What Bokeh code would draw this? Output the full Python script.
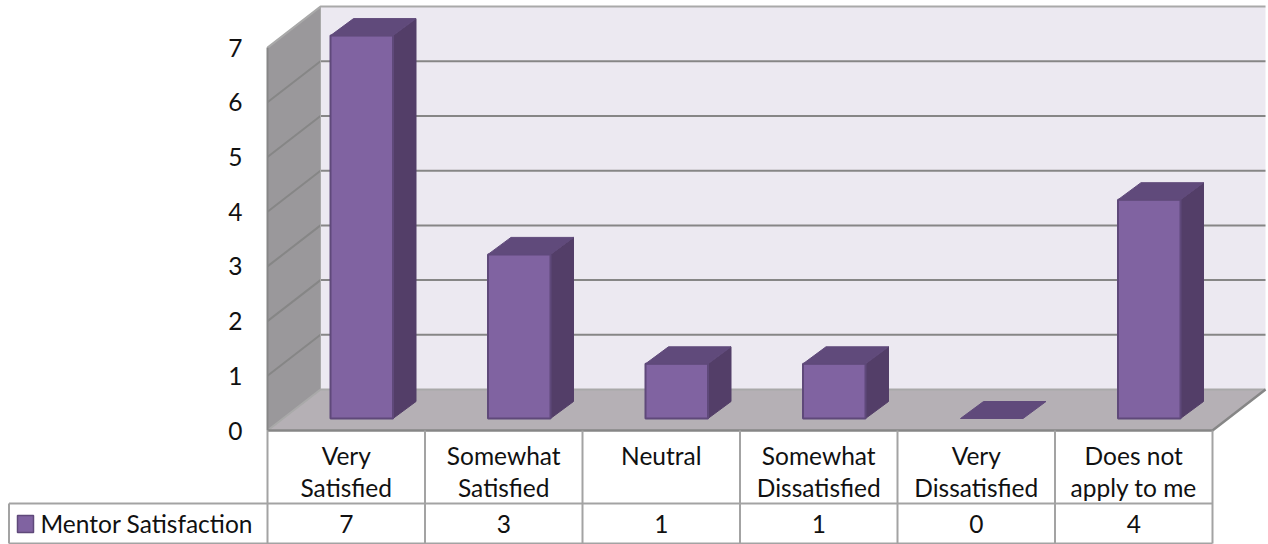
from bokeh.plotting import figure
from bokeh.models import Range1d
from bokeh.core.properties import value
from bokeh.embed import file_html
from bokeh.resources import INLINE

categories = ["Very\nSatisfied", "Somewhat\nSatisfied", "Neutral", "Somewhat\nDissatisfied", "Very\nDissatisfied", "Does not\napply to me"]
series_name = "Mentor Satisfaction"
series_values = [7, 3, 1, 1, 0, 4]
y_ticks = [0, 1, 2, 3, 4, 5, 6, 7]

# layout, in reference pixels
PX_X, PX_Y = 157.5, 54.7
X0, Y0 = 267.0, 430.0
def ux(px): return (px - X0) / PX_X          # picture column to category units
def uy(px): return px / PX_Y                 # vertical length to value units
def row(py): return (Y0 - py) / PX_Y         # picture row to value units

N = len(categories)
WALL_DX, WALL_DY = ux(X0 + 53), uy(41)
BAR_L, BAR_W = ux(X0 + 63), ux(X0 + 62.5)
BAR_DX, BAR_DY = ux(X0 + 23), uy(17)
BAR_BASE = uy(12)
WALL_TOP = max(y_ticks)

FONT = value("Lato")
FS = "24.5px"
TXT = "#111111"
GRID = "#868686"
TABLE = "#a3a3a3"
FRONT, SIDE, TOP, EDGE = "#8063a1", "#533e68", "#604a7b", "#5f497a"

p = figure(width=1268, height=544, output_backend="svg", toolbar_location=None,
           x_range=Range1d(ux(0), ux(1268)), y_range=Range1d(row(544), row(0)),
           min_border=0, min_border_left=0, min_border_right=0, min_border_top=0, min_border_bottom=0)
p.xaxis.visible = False
p.yaxis.visible = False
p.grid.visible = False
p.outline_line_color = None
p.background_fill_color = "white"
p.border_fill_color = "white"

# walls and floor
p.patch([WALL_DX, N + WALL_DX, N + WALL_DX, WALL_DX],
        [WALL_DY, WALL_DY, WALL_TOP + WALL_DY, WALL_TOP + WALL_DY],
        fill_color="#ece9f1", line_color=None)
p.patch([0, WALL_DX, WALL_DX, 0], [0, WALL_DY, WALL_TOP + WALL_DY, WALL_TOP],
        fill_color="#9a989b", line_color=None)
p.patch([0, N, N + WALL_DX, WALL_DX], [0, 0, WALL_DY, WALL_DY],
        fill_color="#b5b0b5", line_color=None)

# gridlines
for t in y_ticks:
    colour = "#a9a9a9" if t in (0, WALL_TOP) else GRID
    p.line([0, WALL_DX, N + WALL_DX], [t, t + WALL_DY, t + WALL_DY], line_color=colour, line_width=2)
p.line([0, N, N + WALL_DX], [0, 0, WALL_DY], line_color=GRID, line_width=2.5)
p.line([0, 0], [0, WALL_TOP], line_color=GRID, line_width=2)
p.line([WALL_DX, WALL_DX], [WALL_DY, WALL_TOP + WALL_DY], line_color="#a9a9a9", line_width=1)

# bars
for i, v in enumerate(series_values):
    l, r = i + BAR_L, i + BAR_L + BAR_W
    t = v + BAR_BASE
    if v > 0:
        p.patch([r, r + BAR_DX, r + BAR_DX, r],
                [BAR_BASE, BAR_BASE + BAR_DY, t + BAR_DY, t],
                fill_color=SIDE, line_color=SIDE, line_width=1)
        p.quad(left=l, right=r, bottom=BAR_BASE, top=t,
               fill_color=FRONT, line_color=EDGE, line_width=2)
    p.patch([l, r, r + BAR_DX, l + BAR_DX], [t, t, t + BAR_DY, t + BAR_DY],
            fill_color=TOP, line_color=TOP, line_width=1)

# value axis labels
p.text(x=[ux(X0 - 25)] * len(y_ticks), y=y_ticks, text=[str(t) for t in y_ticks],
       text_font=FONT, text_font_size=FS, text_color=TXT, text_align="right", text_baseline="middle")

# data table
ROW1, ROW2, ROW3 = 0, row(503), row(543)
LEFT = ux(8.5)
p.line([LEFT, N], [ROW2, ROW2], line_color=TABLE, line_width=2)
p.line([LEFT, N], [ROW3, ROW3], line_color=TABLE, line_width=2)
p.line([LEFT, LEFT], [ROW2, ROW3], line_color=TABLE, line_width=2)
for i in range(N + 1):
    p.line([i, i], [ROW1, ROW3], line_color=TABLE, line_width=2)

for i, c in enumerate(categories):
    for text, py in zip(c.split("\n"), (455, 487)):
        p.text(x=[i + 0.5], y=[row(py)], text=[text], text_font=FONT, text_font_size=FS,
               text_color=TXT, text_align="center", text_baseline="middle")
    p.text(x=[i + 0.5], y=[row(523)], text=[str(series_values[i])], text_font=FONT, text_font_size=FS,
           text_color=TXT, text_align="center", text_baseline="middle")

# legend key in the table
p.quad(left=ux(17), right=ux(33), bottom=row(532), top=row(515),
       fill_color=FRONT, line_color=EDGE, line_width=1.5)
p.text(x=[ux(40)], y=[row(523)], text=[series_name], text_font=FONT, text_font_size=FS,
       text_color=TXT, text_align="left", text_baseline="middle")

open("out.html", "w").write(file_html(p, INLINE))
